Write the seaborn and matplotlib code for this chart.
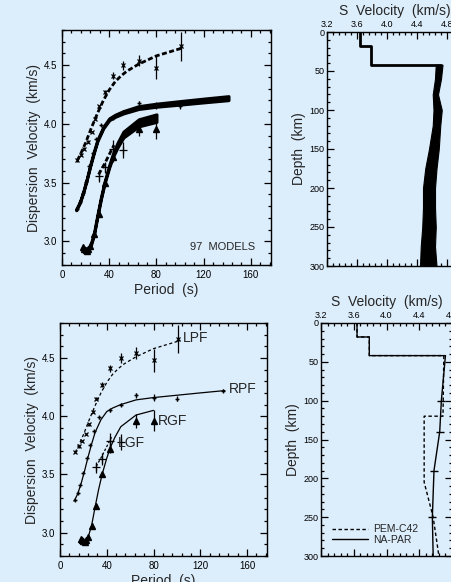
import numpy as np
import pandas as pd
import matplotlib
matplotlib.use("Agg")
import matplotlib.pyplot as plt
import seaborn as sns
from matplotlib.ticker import MultipleLocator, FormatStrFormatter

sns.set_theme(style="ticks")
plt.rcParams['font.family'] = ['Liberation Sans', 'DejaVu Sans']

BG = '#dcedfb'

# ---------------- observed dispersion data ----------------
lpf_T = [13, 16, 19, 22, 25, 28, 31, 36, 43, 52, 65, 80, 101]
lpf_V = [3.69, 3.74, 3.79, 3.85, 3.93, 4.04, 4.15, 4.27, 4.41, 4.50, 4.54, 4.48, 4.66]
lpf_E = [0.01, 0.01, 0.01, 0.01, 0.01, 0.01, 0.015, 0.02, 0.03, 0.04, 0.05, 0.10, 0.12]

rpf_T = [12.5, 15, 17.5, 20, 23, 26, 29, 33, 43, 52, 65, 80, 100, 139]
rpf_V = [3.28, 3.34, 3.41, 3.51, 3.64, 3.75, 3.87, 3.99, 4.05, 4.10, 4.18, 4.16, 4.15, 4.22]
rpf_E = [0.01, 0.01, 0.01, 0.01, 0.01, 0.01, 0.01, 0.01, 0.01, 0.01, 0.02, 0.03, 0.02, 0.01]

rgf_T = [18, 19, 20, 21, 22, 24, 27, 31, 36, 43, 65, 80]
rgf_V = [2.95, 2.94, 2.93, 2.92, 2.94, 2.96, 3.06, 3.23, 3.50, 3.72, 3.96, 3.96]
rgf_E = [0.01, 0.01, 0.01, 0.01, 0.01, 0.01, 0.02, 0.02, 0.02, 0.04, 0.06, 0.09]

lgf_T = [31, 36, 43, 52]
lgf_V = [3.56, 3.63, 3.79, 3.78]
lgf_E = [0.05, 0.05, 0.07, 0.07]

# ---------------- predicted dispersion curves ----------------
lpf_mT = [13, 16, 20, 25, 30, 35, 40, 45, 50, 55, 65, 80, 103]
lpf_mV = [3.69, 3.75, 3.84, 3.97, 4.09, 4.20, 4.29, 4.36, 4.41, 4.45, 4.51, 4.58, 4.65]

rpf_mT = [12, 15, 18, 21, 24, 27, 30, 35, 40, 45, 52, 65, 80, 100, 120, 141]
rpf_mV = [3.27, 3.33, 3.42, 3.53, 3.65, 3.76, 3.86, 3.97, 4.04, 4.07, 4.10, 4.14, 4.16, 4.18, 4.20, 4.22]
rpf_band = [0.004, 0.004, 0.004, 0.005, 0.005, 0.006, 0.006, 0.007, 0.008, 0.009, 0.010, 0.012, 0.013, 0.015, 0.016, 0.017]

rgf_mT = [18, 20, 22, 24, 27, 30, 33, 36, 40, 43, 47, 52, 65, 80]
rgf_mV = [2.94, 2.92, 2.93, 2.96, 3.06, 3.22, 3.37, 3.50, 3.64, 3.73, 3.82, 3.91, 4.01, 4.05]
rgf_band = [0.012, 0.012, 0.010, 0.008, 0.008, 0.008, 0.008, 0.008, 0.010, 0.014, 0.020, 0.025, 0.030, 0.032]

lgf_mT = [31, 36, 40, 44]
lgf_mV = [3.57, 3.66, 3.74, 3.82]

# ---------------- S velocity profiles ----------------
crust_D = [0, 18, 18, 42]
crust_V = [3.64, 3.64, 3.79, 3.79]

ens_D = [42, 60, 80, 100, 120, 150, 175, 200, 225, 250, 275, 300]
ens_lo = [4.65, 4.64, 4.61, 4.62, 4.61, 4.56, 4.51, 4.48, 4.48, 4.47, 4.45, 4.44]
ens_hi = [4.74, 4.72, 4.68, 4.73, 4.71, 4.69, 4.66, 4.64, 4.64, 4.65, 4.64, 4.66]

pem_D = [0, 18, 18, 42, 42, 120, 120, 205, 250, 300]
pem_V = [3.64, 3.64, 3.79, 3.79, 4.70, 4.69, 4.46, 4.46, 4.57, 4.64]

na_D = [0, 18, 18, 42, 42, 100, 140, 190, 250, 300]
na_V = [3.64, 3.64, 3.79, 3.79, 4.72, 4.67, 4.65, 4.58, 4.56, 4.57]
na_nodeD = [100, 140, 190, 250]
na_nodeV = [4.67, 4.65, 4.58, 4.56]


def style_disp(ax):
    ax.set_facecolor(BG)
    ax.set_xlim(0, 177)
    ax.set_ylim(2.8, 4.8)
    ax.xaxis.set_major_locator(MultipleLocator(40))
    ax.xaxis.set_minor_locator(MultipleLocator(8))
    ax.yaxis.set_major_locator(MultipleLocator(0.5))
    ax.yaxis.set_minor_locator(MultipleLocator(0.1))
    ax.yaxis.set_major_formatter(FormatStrFormatter('%.1f'))
    ax.tick_params(which='both', direction='in', top=True, right=True,
                   colors='black', labelsize=7, width=0.9)
    ax.tick_params(which='major', length=5)
    ax.tick_params(which='minor', length=2.5)
    for s in ax.spines.values():
        s.set_linewidth(1.0)
        s.set_color('black')
    ax.set_xlabel('Period  (s)', fontsize=10, labelpad=2)
    ax.set_ylabel('Dispersion  Velocity  (km/s)', fontsize=10, labelpad=2)


def style_prof(ax, xmax):
    ax.set_facecolor(BG)
    ax.set_xlim(3.2, xmax)
    ax.set_ylim(300, 0)
    ax.xaxis.set_major_locator(MultipleLocator(0.4))
    ax.xaxis.set_minor_locator(MultipleLocator(0.08))
    ax.xaxis.set_major_formatter(FormatStrFormatter('%.1f'))
    ax.yaxis.set_major_locator(MultipleLocator(50))
    ax.yaxis.set_minor_locator(MultipleLocator(10))
    ax.xaxis.tick_top()
    ax.xaxis.set_label_position('top')
    ax.tick_params(which='both', direction='in', top=True, bottom=True,
                   left=True, right=True, labeltop=True, labelbottom=False,
                   colors='black', labelsize=6.5, width=0.9, pad=2)
    ax.tick_params(which='major', length=5)
    ax.tick_params(which='minor', length=2.5)
    for s in ax.spines.values():
        s.set_linewidth(1.0)
        s.set_color('black')
    ax.set_xlabel('S  Velocity  (km/s)', fontsize=10, labelpad=4)
    ax.set_ylabel('Depth  (km)', fontsize=10, labelpad=2)


def errbars(ax, T, V, E):
    ax.errorbar(T, V, yerr=E, fmt='none', ecolor='black', elinewidth=0.9, capsize=0)


W, H = 452, 582
fig = plt.figure(figsize=(W / 100, H / 100), dpi=100, facecolor=BG)


def axes_px(l, t, r, b):
    return fig.add_axes([l / W, 1 - b / H, (r - l) / W, (b - t) / H])


ax1 = axes_px(62, 30, 271, 265)
ax2 = axes_px(327, 32, 462, 266)
ax3 = axes_px(60, 323, 267, 556)
ax4 = axes_px(321, 323, 452, 556)

# ---------- top-left : ensemble of 97 models ----------
sns.lineplot(x=lpf_mT, y=lpf_mV, ax=ax1, color='black', lw=2.0, ls=(0, (1.8, 0.9)),
             sort=False, estimator=None)
rlo = np.array(rpf_mV) - np.array(rpf_band)
rhi = np.array(rpf_mV) + np.array(rpf_band)
ax1.fill_between(rpf_mT, rlo, rhi, color='black', lw=2.2, edgecolor='black')
glo = np.array(rgf_mV) - np.array(rgf_band)
ghi = np.array(rgf_mV) + np.array(rgf_band)
ax1.fill_between(rgf_mT, glo, ghi, color='black', lw=2.2, edgecolor='black')
sns.lineplot(x=lgf_mT, y=lgf_mV, ax=ax1, color='black', lw=2.0, ls=(0, (1.8, 0.9)),
             sort=False, estimator=None)

for ax in (ax1, ax3):
    errbars(ax, lpf_T, lpf_V, lpf_E)
    errbars(ax, rpf_T, rpf_V, rpf_E)
    errbars(ax, rgf_T, rgf_V, rgf_E)
    errbars(ax, lgf_T, lgf_V, lgf_E)
    ax.plot(lpf_T, lpf_V, ls='none', marker='x', ms=3, mew=0.9, color='black')
    ax.plot(rpf_T, rpf_V, ls='none', marker='+', ms=3.5, mew=1.0, color='black')
    ax.plot(rgf_T, rgf_V, ls='none', marker='^', ms=4, color='black')
    ax.plot(lgf_T, lgf_V, ls='none', marker='+', ms=6, mew=0.9, color='black')

ax1.text(136, 2.95, '97  MODELS', fontsize=8, ha='center', va='center')
style_disp(ax1)

# ---------- bottom-left : best model ----------
sns.lineplot(x=lpf_mT, y=lpf_mV, ax=ax3, color='black', lw=0.9, ls=(0, (2.5, 2)),
             sort=False, estimator=None)
sns.lineplot(x=rpf_mT, y=rpf_mV, ax=ax3, color='black', lw=0.9,
             sort=False, estimator=None)
sns.lineplot(x=rgf_mT, y=rgf_mV, ax=ax3, color='black', lw=0.9,
             sort=False, estimator=None)
sns.lineplot(x=lgf_mT, y=lgf_mV, ax=ax3, color='black', lw=0.9, ls=(0, (2, 1.5)),
             sort=False, estimator=None)
ax3.text(105, 4.67, 'LPF', fontsize=10, ha='left', va='center')
ax3.text(144, 4.23, 'RPF', fontsize=10, ha='left', va='center')
ax3.text(84, 3.96, 'RGF', fontsize=10, ha='left', va='center')
ax3.text(49.5, 3.77, 'LGF', fontsize=10, ha='left', va='center')
style_disp(ax3)

# ---------- top-right : ensemble S velocity ----------
ax2.fill_betweenx(ens_D, ens_lo, ens_hi, color='black', lw=0.8, edgecolor='black')
prof_D = crust_D + [42]
prof_V = crust_V + [ens_hi[0] - 0.02]
sns.lineplot(x=prof_V, y=prof_D, ax=ax2, color='black', lw=2.0, sort=False,
             estimator=None)
style_prof(ax2, 5.0)

# ---------- bottom-right : PEM-C42 vs NA-PAR ----------
sns.lineplot(x=pem_V, y=pem_D, ax=ax4, color='black', lw=1.0, ls=(0, (2.5, 1.8)),
             sort=False, estimator=None, label='PEM-C42')
sns.lineplot(x=na_V, y=na_D, ax=ax4, color='black', lw=1.0,
             sort=False, estimator=None, label='NA-PAR')
ax4.plot(na_nodeV, na_nodeD, ls='none', marker='_', ms=6, mew=1.0, color='black')
ax4.legend(loc='lower left', bbox_to_anchor=(0.05, 0.03), frameon=False,
           fontsize=7.5, handlelength=3.5, labelspacing=0.05, handletextpad=0.5,
           borderaxespad=0)
style_prof(ax4, 4.8)

fig.savefig('out.png', dpi=100, facecolor=BG)
